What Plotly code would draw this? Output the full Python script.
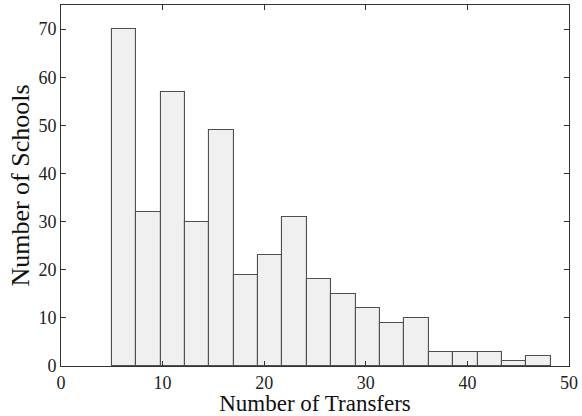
import plotly.graph_objects as go

bin_edges = [5.0, 7.4, 9.8, 12.2, 14.6, 17.0, 19.4, 21.8, 24.2, 26.6, 29.0,
             31.4, 33.8, 36.2, 38.6, 41.0, 43.4, 45.8, 48.2]
counts = [70, 32, 57, 30, 49, 19, 23, 31, 18, 15, 12, 9, 10, 3, 3, 3, 1, 2]
x_ticks = [0, 10, 20, 30, 40, 50]
y_ticks = [0, 10, 20, 30, 40, 50, 60, 70]

centers = [(a + b) / 2 for a, b in zip(bin_edges[:-1], bin_edges[1:])]
widths = [b - a for a, b in zip(bin_edges[:-1], bin_edges[1:])]

fig = go.Figure(go.Bar(
    x=centers, y=counts, width=widths,
    marker=dict(color="#f0f0f0", line=dict(color="#505050", width=1.1)),
))

font = "Liberation Serif, Times New Roman, serif"
axis_common = dict(
    showline=True, linecolor="#333333", linewidth=1, mirror="ticks",
    ticks="inside", ticklen=5, tickcolor="#333333", tickwidth=1,
    showgrid=False, zeroline=False,
    tickfont=dict(family=font, size=18, color="#222"),
)
fig.update_layout(
    width=582, height=416,
    margin=dict(l=61, r=13, t=5, b=50, autoexpand=False),
    plot_bgcolor="white", paper_bgcolor="white",
    showlegend=False, bargap=0,
    xaxis=dict(range=[0, 50], tickvals=x_ticks,
               title=dict(text="Number of Transfers", font=dict(family=font, size=23, color="#111"), standoff=0),
               **axis_common),
    yaxis=dict(range=[0, 75], tickvals=y_ticks,
               title=dict(text="Number of Schools", font=dict(family=font, size=26, color="#111"), standoff=1),
               **axis_common),
)
fig.write_html("out.html", config={"displayModeBar": False},
               post_script="document.body.style.margin='0';document.body.style.overflow='hidden';")
